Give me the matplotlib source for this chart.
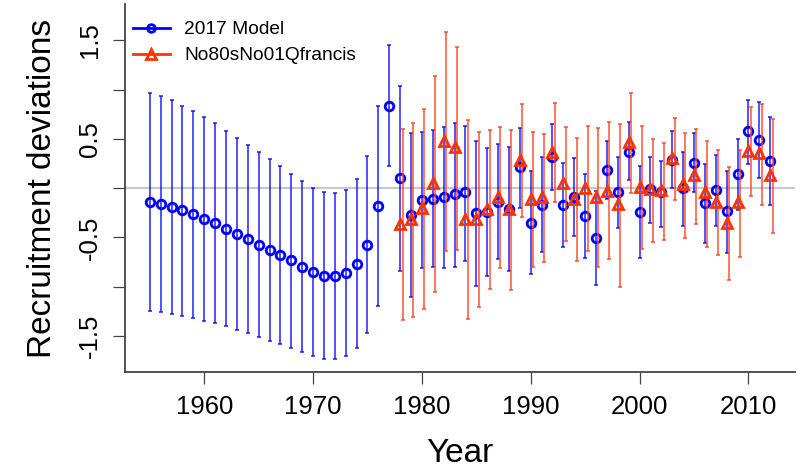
import numpy as np
import matplotlib
matplotlib.use("Agg")
import matplotlib.pyplot as plt
from matplotlib.lines import Line2D

plt.rcParams['font.family'] = ['Liberation Sans', 'DejaVu Sans']

# 2017 base model
years_base = list(range(1955, 2013))
dev_base = [-0.136, -0.163, -0.193, -0.227, -0.264, -0.309, -0.356, -0.41, -0.464, -0.52,
            -0.573, -0.627, -0.681, -0.732, -0.797, -0.85, -0.891, -0.894, -0.861, -0.77,
            -0.573, -0.177, 0.836,
            0.10, -0.271, -0.119, -0.109, -0.092, -0.058, -0.044, -0.248, -0.244, -0.139,
            -0.207, 0.21, -0.349, -0.17, 0.321, -0.17, -0.085, -0.281, -0.508, 0.186,
            -0.041, 0.372, -0.244, -0.01, -0.041, 0.29, 0.0, 0.26, -0.152, -0.017,
            -0.237, 0.145, 0.576, 0.491, 0.277]
hi_base = [0.97, 0.935, 0.89, 0.836, 0.786, 0.72, 0.657, 0.582, 0.511, 0.433,
           0.366, 0.298, 0.223, 0.148, 0.077, 0.006, -0.038, -0.051, -0.017, 0.088,
           0.325, 0.83, 1.453,
           1.04, 0.559, 0.569, 0.589, 0.62, 0.664, 0.63, 0.474, 0.406, 0.45,
           0.413, 0.61, 0.176, 0.315, 0.65, 0.254, 0.305, 0.142, -0.03, 0.48,
           0.321, 0.667, 0.22, 0.321, 0.28, 0.576, 0.362, 0.559, 0.244, 0.338,
           0.176, 0.501, 0.89, 0.87, 0.72]
lo_base = [-1.25, -1.26, -1.28, -1.295, -1.315, -1.345, -1.372, -1.40, -1.44, -1.474,
           -1.515, -1.549, -1.582, -1.62, -1.667, -1.704, -1.735, -1.738, -1.70, -1.626,
           -1.474, -1.196, 0.227,
           -0.837, -1.11, -0.813, -0.803, -0.813, -0.797, -0.735, -0.993, -0.888, -0.718,
           -0.837, -0.203, -0.874, -0.644, -0.017, -0.60, -0.485, -0.705, -0.983, -0.109,
           -0.40, 0.084, -0.711, -0.349, -0.39, 0.006, -0.383, -0.044, -0.559, -0.383,
           -0.654, -0.221, 0.247, 0.102, -0.173]

# sensitivity run
years_sens = list(range(1978, 2013))
dev_sens = [-0.363, -0.315, -0.203, 0.05, 0.48, 0.416, -0.315, -0.309, -0.21, -0.092,
            -0.21, 0.288, -0.109, -0.092, 0.362, 0.05, -0.109, 0.006, -0.092, -0.024,
            -0.163, 0.467, 0.016, -0.007, -0.02, 0.311, 0.04, 0.135, -0.044, -0.136,
            -0.349, -0.136, 0.382, 0.356, 0.135]
hi_sens = [0.603, 0.657, 0.803, 1.134, 1.585, 1.433, 0.687, 0.569, 0.589, 0.62,
           0.589, 0.854, 0.565, 0.552, 0.86, 0.62, 0.511, 0.626, 0.606, 0.667,
           0.65, 0.965, 0.626, 0.501, 0.463, 0.711, 0.559, 0.603, 0.474, 0.389,
           0.21, 0.389, 0.823, 0.857, 0.70]
lo_sens = [-1.338, -1.305, -1.223, -1.054, -0.637, -0.627, -1.328, -1.203, -1.026, -0.813,
           -1.034, -0.288, -0.797, -0.752, -0.142, -0.536, -0.735, -0.637, -0.803, -0.722,
           -1.0, -0.051, -0.62, -0.549, -0.525, -0.119, -0.508, -0.366, -0.60, -0.678,
           -0.932, -0.695, -0.078, -0.173, -0.457]

labels = ["2017 Model", "No80sNo01Qfrancis"]
blue = "#0000FF"
red = "#FF3300"

fig = plt.figure(figsize=(8.07, 4.69), dpi=100)
ax = fig.add_axes([0.1549, 0.2062, 0.8302, 0.7853])

ax.axhline(0, color="#c8c8c8", lw=1.6, zorder=0)

yb = np.array(dev_base)
ax.errorbar(years_base, yb, yerr=[yb - np.array(lo_base), np.array(hi_base) - yb],
            fmt="none", ecolor=blue, elinewidth=1.2, capsize=1.5, capthick=1.2,
            alpha=0.8, zorder=2)
ax.plot(years_base, yb, "o", ms=6.2, mfc="none", mec=blue, mew=2.0, zorder=3)

ys = np.array(dev_sens)
ax.errorbar(np.array(years_sens) + 0.22, ys, yerr=[ys - np.array(lo_sens), np.array(hi_sens) - ys],
            fmt="none", ecolor="#FF4422", elinewidth=1.2, capsize=1.5, capthick=1.2,
            alpha=0.85, zorder=4)
ax.plot(years_sens, ys, "^", ms=7.5, mfc="none", mec=red, mew=2.0, zorder=5)

ax.set_xlim(1952.72, 2014.28)
ax.set_ylim(-1.87, 1.87)
ax.set_xticks([1960, 1970, 1980, 1990, 2000, 2010])
ax.set_yticks([-1.5, -1.0, -0.5, 0.0, 0.5, 1.0, 1.5])
ax.set_yticklabels(["-1.5", "", "-0.5", "", "0.5", "", "1.5"])

for s in ["top", "right"]:
    ax.spines[s].set_visible(False)
for s in ["left", "bottom"]:
    ax.spines[s].set_color("#444444")
    ax.spines[s].set_linewidth(1.3)

ax.tick_params(axis="both", direction="out", length=8.6, width=0.9, color="#444444",
               labelsize=18.5, pad=8)
for t in ax.get_yticklabels():
    t.set_rotation(90)
    t.set_va("center")

ax.set_xlabel("Year", fontsize=24)
ax.xaxis.label.set_va("baseline")
ax.xaxis.set_label_coords(0.5, -0.2427)
ax.set_ylabel("Recruitment deviations", fontsize=24)
ax.yaxis.set_label_coords(-0.1004, 0.5)

handles = [Line2D([], [], color=blue, lw=2, marker="o", ms=5.5, mfc="none", mew=2),
           Line2D([], [], color=red, lw=2, marker="^", ms=6.5, mfc="none", mew=2)]
ax.legend(handles, labels, loc="upper left", bbox_to_anchor=(0.0, 0.975),
          frameon=False, fontsize=13.8, handlelength=1.95, handletextpad=0.75,
          labelspacing=0.45, borderaxespad=0.2, borderpad=0.2)

fig.savefig("out.png", dpi=100)
